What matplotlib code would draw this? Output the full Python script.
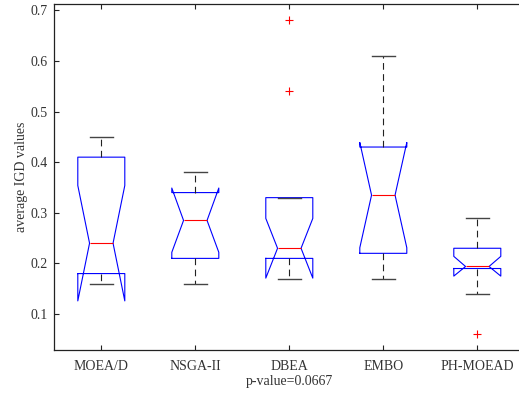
import matplotlib
matplotlib.use('Agg')
import matplotlib.pyplot as plt

# notched boxplot summary, one entry per algorithm
labels = ['MOEA/D', 'NSGA-II', 'DBEA', 'EMBO', 'PH-MOEAD']
q1 = [0.18, 0.21, 0.21, 0.22, 0.19]
med = [0.24, 0.285, 0.23, 0.335, 0.194]
q3 = [0.41, 0.34, 0.33, 0.43, 0.23]
whislo = [0.16, 0.16, 0.17, 0.17, 0.14]
whishi = [0.45, 0.38, 0.33, 0.61, 0.29]
cilo = [0.126, 0.222, 0.171, 0.231, 0.175]
cihi = [0.354, 0.349, 0.289, 0.439, 0.214]
fliers = [[], [], [0.68, 0.54], [], [0.06]]

plt.rcParams['font.family'] = ['Liberation Serif', 'DejaVu Serif']
plt.rcParams['font.size'] = 10

stats = []
for i in range(len(labels)):
    stats.append(dict(label=labels[i], q1=q1[i], med=med[i], q3=q3[i],
                      whislo=whislo[i], whishi=whishi[i],
                      cilo=cilo[i], cihi=cihi[i], fliers=fliers[i]))

fig = plt.figure(figsize=(5.19, 3.94), dpi=100)
ax = fig.add_axes([54.3 / 519, 44 / 394, 470 / 519, 345.7 / 394])

ax.bxp(stats, positions=range(1, 6), widths=0.5, shownotches=True,
       boxprops=dict(color='blue', linewidth=0.8),
       medianprops=dict(color='red', linewidth=0.8),
       whiskerprops=dict(color='#222222', linewidth=0.8, linestyle=(0, (6, 4))),
       capprops=dict(color='#444444', linewidth=1.0),
       flierprops=dict(marker='+', markeredgecolor='red', markersize=6,
                       linestyle='none', markeredgewidth=0.8))

ax.set_xlim(0.5, 5.5)
ax.set_ylim(0.029, 0.712)
ax.set_yticks([0.1, 0.2, 0.3, 0.4, 0.5, 0.6, 0.7])
ax.set_yticklabels(['0.1', '0.2', '0.3', '0.4', '0.5', '0.6', '0.7'])
ax.tick_params(direction='in', top=True, right=True, length=3.6, width=0.8,
               colors='#222222', labelcolor='#333333')
ax.tick_params(axis='y', pad=5)
ax.tick_params(axis='x', pad=7)
for s in ax.spines.values():
    s.set_color('#222222')
    s.set_linewidth(0.9)

ax.set_ylabel('average IGD values', color='#333333')
ax.yaxis.set_label_coords(-0.055, 0.5)
ax.set_xlabel('p-value=0.0667', color='#333333', labelpad=2)

fig.savefig('out.png', dpi=100)
